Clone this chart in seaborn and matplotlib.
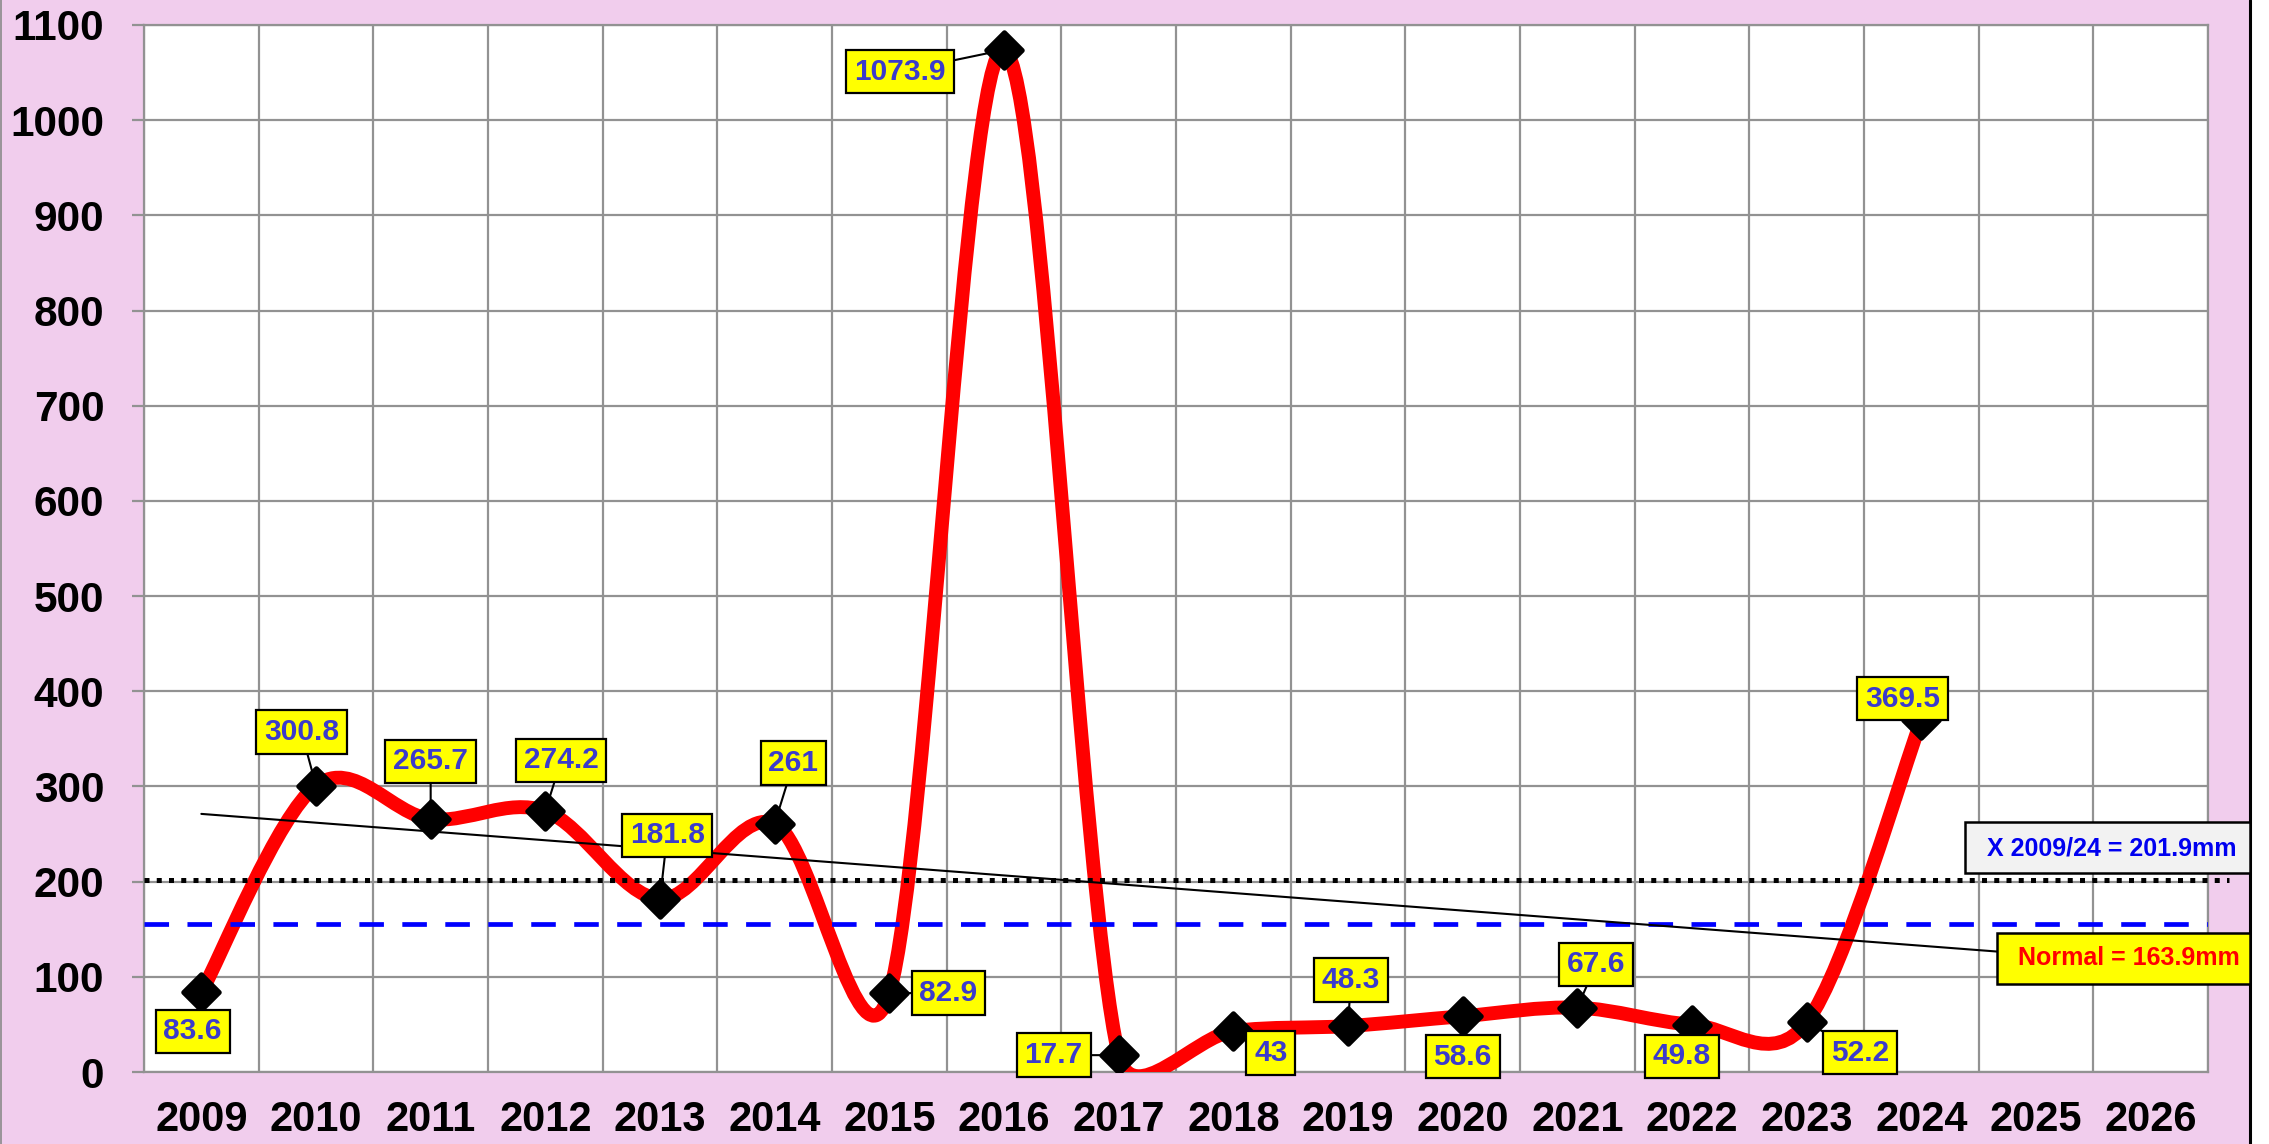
import numpy as np
import pandas as pd
import matplotlib
matplotlib.use("Agg")
import matplotlib.pyplot as plt
import seaborn as sns
from matplotlib.path import Path
from matplotlib.patches import PathPatch, Rectangle
from matplotlib.lines import Line2D

# ---------------- data ----------------
years = [str(y) for y in range(2009, 2027)]
data_years = years[:16]
rainfall = [83.6, 300.8, 265.7, 274.2, 181.8, 261.0, 82.9, 1073.9,
            17.7, 43.0, 48.3, 58.6, 67.6, 49.8, 52.2, 369.5]
label_texts = ["83.6", "300.8", "265.7", "274.2", "181.8", "261", "82.9", "1073.9",
               "17.7", "43", "48.3", "58.6", "67.6", "49.8", "52.2", "369.5"]
mean_value = 201.9
normal_line_value = 155.5
mean_text = "X 2009/24 = 201.9mm"
normal_text = "Normal = 163.9mm"
y_ticks = list(range(0, 1101, 100))

# label offsets (points) relative to each marker
label_offsets = [(-6, -27), (-10, 37), (0, 40), (11, 35), (5, 44), (13, 42),
                 (41, 0), (-72, -15), (-45, 0), (26, -15), (2, 32), (0, -28),
                 (13, 30), (-7, -22), (37, -21), (-13, 15)]

# ---------------- style ----------------
sns.set_style("white")
plt.rcParams["font.family"] = ["Liberation Sans", "DejaVu Sans"]
plt.rcParams["font.weight"] = "bold"

PINK = "#F1CDED"
GRID = "#929292"
LABEL_BLUE = "#3B3BCC"

W, H = 2269, 1144
fig = plt.figure(figsize=(W / 100, H / 100), dpi=100, facecolor="white")

# pink background panel with borders
fig.patches.append(Rectangle((0, 0), 2250 / W, 1, transform=fig.transFigure,
                             facecolor=PINK, edgecolor="none", zorder=-10))
fig.lines.append(Line2D([2250 / W, 2250 / W], [0, 1], transform=fig.transFigure,
                        color="black", lw=2.2))
fig.lines.append(Line2D([0.5 / W, 0.5 / W], [0, 1], transform=fig.transFigure,
                        color="#8A8A8A", lw=1.2))

left, right, bottom, top = 144, 2208, 1072, 25
ax = fig.add_axes([left / W, 1 - bottom / H, (right - left) / W, (bottom - top) / H])
ax.set_facecolor("white")

ax.set_xlim(-0.5, 17.5)
ax.set_ylim(0, 1100)

# ---------------- smoothed curve (Excel-like bezier) ----------------
xs = np.arange(len(rainfall), dtype=float)
ys = np.array(rainfall, dtype=float)
P = np.column_stack([xs, ys])
n = len(P)
k = (114.6 / 0.9518)  # y units per x unit to reach screen-like space


def slen(v):
    return np.hypot(v[0] * k, v[1])


T = []
for i in range(n):
    a = P[i - 1] if i > 0 else P[i]
    b = P[i + 1] if i + 1 < n else P[i]
    T.append((b - a) / 6.0)

verts = [P[0]]
codes = [Path.MOVETO]
for i in range(n - 1):
    L = slen(P[i + 1] - P[i])
    t1 = T[i]
    t2 = T[i + 1]
    s1 = min(1.0, 0.5 * L / max(slen(t1), 1e-9))
    s2 = min(1.0, 0.5 * L / max(slen(t2), 1e-9))
    c1 = P[i] + t1 * s1
    c2 = P[i + 1] - t2 * s2
    verts += [c1, c2, P[i + 1]]
    codes += [Path.CURVE4] * 3

curve = PathPatch(Path(np.array(verts), codes), facecolor="none", edgecolor="#FF0000",
                  lw=10, transform=ax.transData, zorder=3, capstyle="round",
                  joinstyle="round")
ax.add_patch(curve)

# ---------------- reference lines ----------------
ax.plot([-0.5, 17.68], [mean_value, mean_value], color="black", lw=3.6,
        linestyle=(0, (1, 1.45)), zorder=3.5, clip_on=False)
ax.plot([-0.5, 17.5], [normal_line_value, normal_line_value], color="#0000FF", lw=3.4,
        linestyle=(0, (5.2, 3.9)), zorder=3.5)
coef = np.polyfit(xs, ys, 1)
tx = np.array([0.0, 15.7])
ax.plot(tx, np.polyval(coef, tx), color="black", lw=1.5, zorder=3.6)

# ---------------- markers ----------------
df = pd.DataFrame({"pos": xs, "value": ys, "year": data_years})
sns.scatterplot(data=df, x="pos", y="value", marker="D", s=330, color="black",
                edgecolor="black", linewidth=3.5, ax=ax, zorder=4, legend=False)
for coll in ax.collections:
    coll.set_joinstyle("round")

# ---------------- data labels ----------------
for x, y, txt, (dx, dy) in zip(xs, ys, label_texts, label_offsets):
    ax.annotate(txt, xy=(x, y), xytext=(dx * 1.04, dy * 1.04), textcoords="offset points",
                ha="center", va="center", fontsize=21.5, fontweight="bold",
                color=LABEL_BLUE, zorder=6,
                bbox=dict(boxstyle="square,pad=0.26", facecolor="#FFFF00",
                          edgecolor="black", lw=1.6),
                arrowprops=dict(arrowstyle="-", color="black", lw=1.5,
                                shrinkA=0, shrinkB=0), annotation_clip=False)

# ---------------- mean / normal boxes ----------------
fig.patches.append(Rectangle((1965 / W, 1 - 873 / H), (2250 - 1965) / W, (873 - 822) / H,
                             transform=fig.transFigure, facecolor="#F2F2F2",
                             edgecolor="black", lw=1.8, zorder=20))
fig.text(2112 / W, 1 - 848 / H, mean_text, ha="center", va="center", fontsize=18,
         fontweight="bold", color="#0000F0", zorder=21)
fig.patches.append(Rectangle((1997 / W, 1 - 984 / H), (2250 - 1997) / W, (984 - 933) / H,
                             transform=fig.transFigure, facecolor="#FFFF00",
                             edgecolor="black", lw=1.8, zorder=20))
fig.text(2129 / W, 1 - 958 / H, normal_text, ha="center", va="center", fontsize=18,
         fontweight="bold", color="#FF0000", zorder=21)

# ---------------- axes, ticks, grid ----------------
ax.set_xticks(range(len(years)))
ax.set_xticklabels(years)
ax.set_xticks(np.arange(-0.5, len(years), 1.0), minor=True)
ax.set_yticks(y_ticks)
ax.set_yticklabels([str(v) for v in y_ticks])
ax.tick_params(axis="x", which="major", length=0, pad=20, labelsize=30)
ax.tick_params(axis="x", which="minor", length=8.6, width=1.6, color=GRID, direction="out")
ax.tick_params(axis="y", which="major", length=8.6, width=1.6, color=GRID, pad=20,
               labelsize=30.5, direction="out", left=True)
for lab in ax.get_xticklabels() + ax.get_yticklabels():
    lab.set_fontweight("bold")
    lab.set_color("black")
ax.grid(False)
ax.grid(True, axis="x", which="minor", color=GRID, lw=1.6, zorder=0)
ax.grid(True, axis="y", which="major", color=GRID, lw=1.6, zorder=0)
ax.set_axisbelow(True)
for sp in ax.spines.values():
    sp.set_color(GRID)
    sp.set_linewidth(1.6)
ax.set_xlabel("")
ax.set_ylabel("")

fig.savefig("out.png", dpi=100, facecolor="white")
